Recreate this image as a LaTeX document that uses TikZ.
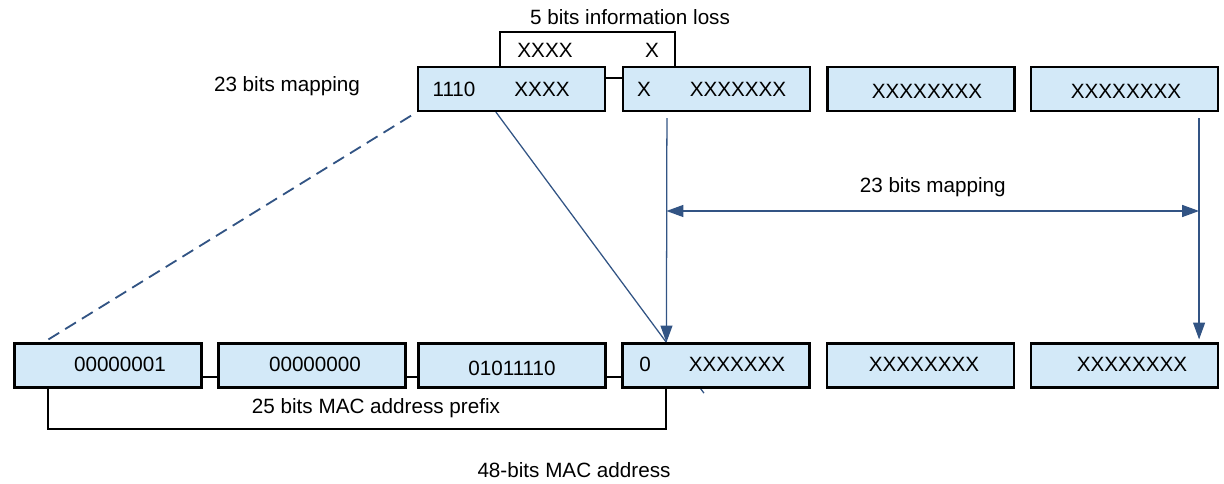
\documentclass[tikz,border=0pt]{standalone}
\usepackage{fontspec}
\setmainfont{Liberation Sans}
\usetikzlibrary{arrows.meta,calc,backgrounds}
\definecolor{cellblue}{RGB}{211,233,248}
\definecolor{linkblue}{RGB}{50,84,132}

\begin{document}
\begin{tikzpicture}[x=0.025cm,y=-0.025cm,>={Triangle[length=12pt,width=8.5pt]},
  font=\fontsize{14.7}{17}\selectfont,
  cell/.style={draw,line width=1.5pt,fill=cellblue,minimum width=4.675cm,minimum height=1.1cm,inner sep=0pt},
  bits/.style={inner sep=0pt},
  frame/.style={line width=1.4pt},
  link/.style={draw=linkblue,line width=0.9pt}]
\useasboundingbox (0,0) rectangle (1224,484);

% IP multicast address (top row)
\foreach \i/\x in {1/511.5,2/716.5,3/921,4/1124.5}
  \node[cell] (ip\i) at (\x,89) {};
% multicast MAC address (bottom row)
\foreach \i/\x in {1/108,2/312,3/512,4/716,5/920.5,6/1124.5}
  \node[cell] (mac\i) at (\x,365.5) {};

% octet contents
\foreach \n/\x/\y/\t in {ipa/454/89/1110, ipb/542/89/XXXX, ipc/644/89/X, ipd/738/89/XXXXXXX,
  ipe/927/91/XXXXXXXX, ipf/1126/91/XXXXXXXX,
  maca/120/364/00000001, macb/315/364/00000000, macc/512/368/01011110, macd/645/364/0,
  mace/737/364/XXXXXXX, macf/924/364/XXXXXXXX, macg/1132/364/XXXXXXXX}
  \node[bits] (\n) at (\x,\y) {\t};

% links between octets
\draw[frame] ($(ip1.east)+(0,-11)$) -- ($(ip2.west)+(0,-11)$);
\foreach \a/\b in {1/2,2/3,3/4}
  \draw[frame] ($(mac\a.east)+(0,11.5)$) -- ($(mac\b.west)+(0,11.5)$);

% lost bits
\draw[frame] ($(ip1.north west)+(83,0)$) -- ++(0,-34) -| ($(ip2.north west)+(53,0)$);
\node[bits] (lost1) at (545,50) {XXXX};
\node[bits] (lost2) at (652,50) {X};
\node (loss) at (630,17) {5 bits information loss};
\node (map1) at (287,86) {23 bits mapping};

% prefix bracket
\coordinate (pre) at ($(mac1.south west)+(35,0)$);
\coordinate (tip1) at ($(mac4.north west)+(45,0)$);
\draw[frame] (pre) -- ++(0,40) -| ($(mac4.south west)+(45,0)$);
\node (prefix) at (376,408) {25 bits MAC address prefix};
\node (mac) at (574,470) {48-bits MAC address};

% mapping lines
\coordinate (tip2) at ($(mac6.north east)+(-20,-3)$);
\coordinate (top1) at ($(ip2.south west)+(45,6)$);
\coordinate (top2) at ($(ip4.south east)+(-20,6)$);
\draw[link,->] (top1) -- (tip1);
\draw[link,->] (top2) -- (tip2);
\coordinate (span) at (922,211);
\draw[link,<->] (tip1 |- span) -- (tip2 |- span) node[midway,above=6pt] (map2) {23 bits mapping};
\draw[link,line width=1.3pt,dash pattern=on 9pt off 5pt] ($(pre |- mac1.north)+(0,-3)$) -- (ip1.south west);
\begin{scope}[on background layer]
\draw[link] ($(ip1.south west)+(79,0)$) coordinate (src) -- ($(src)!1.22!(tip1)$);
\end{scope}
\end{tikzpicture}
\end{document}
